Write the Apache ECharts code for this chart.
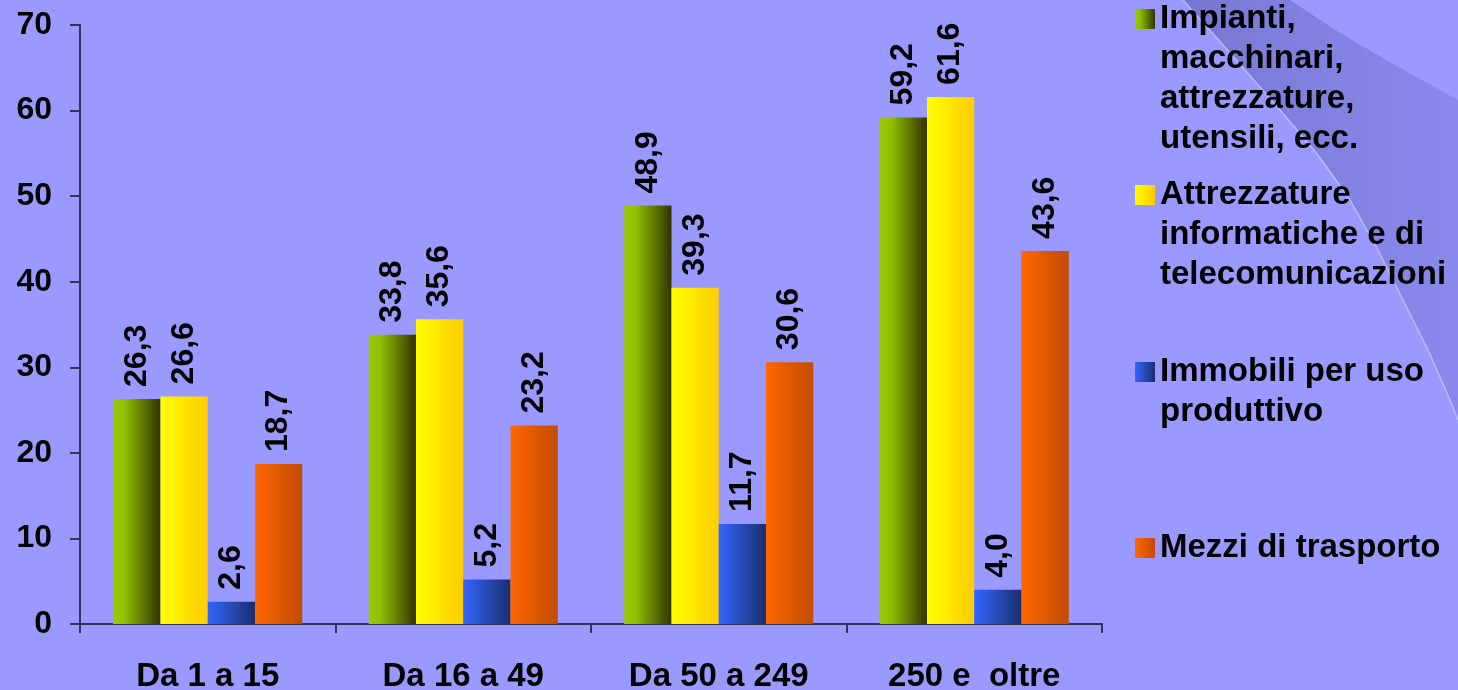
<!DOCTYPE html>
<html>
<head>
<meta charset="utf-8">
<script src="https://cdn.jsdelivr.net/npm/echarts@6/dist/echarts.min.js"></script>
<style>
  html, body { margin: 0; padding: 0; background: #9999ff; }
  #chart { width: 1458px; height: 690px; }
</style>
</head>
<body>
<div id="chart"></div>
<script>
var categories = ['Da 1 a 15', 'Da 16 a 49', 'Da 50 a 249', '250 e  oltre'];
var seriesNames = ['Impianti', 'Attrezzature informatiche', 'Immobili', 'Mezzi di trasporto'];
var legendLines = [
  ['Impianti,', 'macchinari,', 'attrezzature,', 'utensili, ecc.'],
  ['Attrezzature', 'informatiche e di', 'telecomunicazioni'],
  ['Immobili per uso', 'produttivo'],
  ['Mezzi di trasporto']
];
var impianti = [26.3, 33.8, 48.9, 59.2];
var informatiche = [26.6, 35.6, 39.3, 61.6];
var immobili = [2.6, 5.2, 11.7, 4.0];
var mezzi = [18.7, 23.2, 30.6, 43.6];
var yTicks = { min: 0, max: 70, interval: 10 };

var FONT = '"Liberation Sans", Arial, sans-serif';
var AXIS = '#333355';

function grad(stops) {
  return new echarts.graphic.LinearGradient(0, 0, 1, 0, stops.map(function (c) {
    return { offset: c[0], color: c[1] };
  }));
}
var colors = [
  grad([[0, '#99cc00'], [0.25, '#8ebf00'], [1, '#333300']]),
  grad([[0, '#ffff00'], [1, '#ffcc00']]),
  grad([[0, '#3366ff'], [1, '#1a2e6e']]),
  grad([[0, '#ff6600'], [1, '#c24c00']])
];
var values = [impianti, informatiche, immobili, mezzi];

// swoosh decoration (top right of the slide)
var leftEdge = [[1183, 0], [1232, 55], [1280, 110], [1318, 155], [1350, 200], [1378, 250],
  [1403, 300], [1428, 350], [1450, 400], [1458, 420]];
var topEdge = [[1458, 100], [1400, 68], [1340, 33], [1290, 0]];
var band = leftEdge.concat(topEdge);

var myChart = echarts.init(document.getElementById('chart'));

// one legend per entry, blank lines in front so the icon sits on the first line
var legends = [];
var iconCenters = [19, 195, 372, 548];
legendLines.forEach(function (lines, i) {
  var n = lines.length;
  var txt = new Array(n).join('\n') + lines.join('\n');
  legends.push({
    data: [seriesNames[i]],
    orient: 'vertical',
    left: 1135,
    top: iconCenters[i] - (2 * n - 1) * 20,
    padding: 0,
    itemWidth: 20,
    itemHeight: 20,
    icon: 'rect',
    selectedMode: false,
    formatter: function () { return txt; },
    textStyle: {
      fontFamily: FONT, fontWeight: 'bold', fontSize: 33, color: '#000',
      lineHeight: 40
    }
  });
});

myChart.setOption({
  backgroundColor: '#9999ff',
  animation: false,
  graphic: [
    {
      type: 'polygon', silent: true, z: -10,
      shape: { points: band },
      style: {
        fill: new echarts.graphic.LinearGradient(0, 0, 1, 0, [
          { offset: 0, color: 'rgba(85,85,165,0.5)' },
          { offset: 1, color: 'rgba(100,100,190,0.3)' }
        ])
      }
    },
    {
      type: 'polyline', silent: true, z: -9,
      shape: { points: leftEdge },
      style: { stroke: 'rgba(200,200,255,0.75)', lineWidth: 1.5, fill: null }
    }
  ],
  legend: legends,
  grid: { left: 80, right: 356, top: 25, bottom: 66, containLabel: false, outerBoundsMode: 'none' },
  xAxis: {
    type: 'category',
    data: categories,
    axisLine: { show: true, lineStyle: { color: AXIS, width: 2 } },
    axisTick: { show: true, length: 9, lineStyle: { color: AXIS, width: 2 } },
    axisLabel: { margin: 36, fontFamily: FONT, fontWeight: 'bold', fontSize: 33, color: '#000' }
  },
  yAxis: {
    type: 'value',
    min: yTicks.min, max: yTicks.max, interval: yTicks.interval,
    splitLine: { show: false },
    axisLine: { show: true, lineStyle: { color: AXIS, width: 2 } },
    axisTick: { show: true, length: 10, lineStyle: { color: AXIS, width: 2 } },
    axisLabel: { margin: 28, fontFamily: FONT, fontWeight: 'bold', fontSize: 32, color: '#000' }
  },
  series: seriesNames.map(function (name, i) {
    return {
      name: name,
      type: 'bar',
      data: values[i],
      barGap: 0,
      barCategoryGap: '26%',
      itemStyle: { color: colors[i] },
      label: {
        show: true,
        position: 'top',
        rotate: 90,
        align: 'left',
        verticalAlign: 'middle',
        distance: 12,
        fontFamily: FONT, fontWeight: 'bold', fontSize: 32, color: '#000',
        formatter: function (p) { return p.value.toFixed(1).replace('.', ','); }
      }
    };
  })
});
</script>
</body>
</html>
